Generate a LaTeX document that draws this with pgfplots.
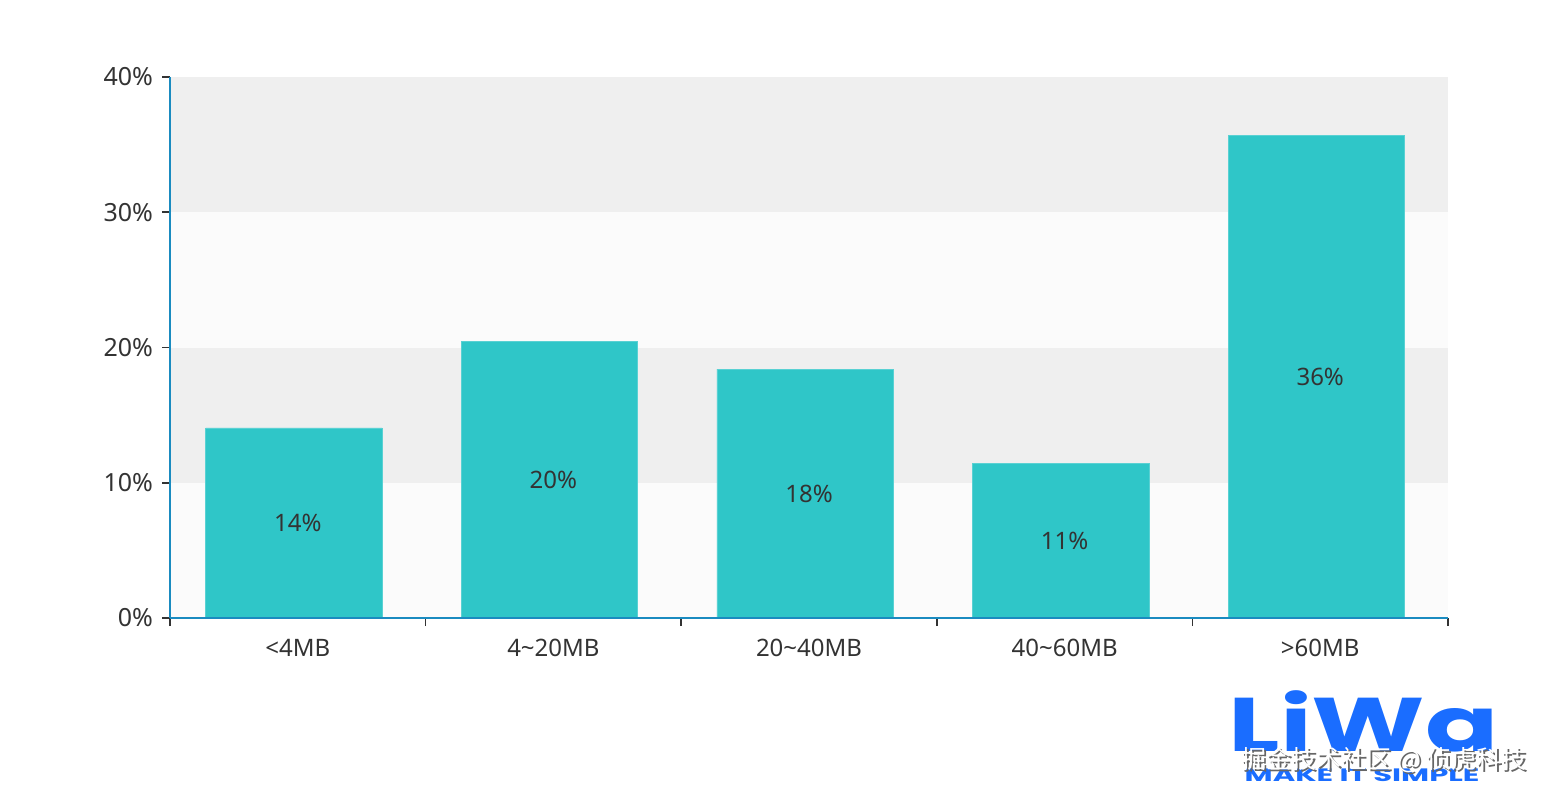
\documentclass[border=0pt]{standalone}
\usepackage{pgfplots}
\pgfplotsset{compat=1.18}
\usepackage{fontspec}
\setmainfont{Noto Sans}
\newfontfamily\cjk{Noto Sans CJK SC}
\newfontfamily\logofont{Poppins}
\definecolor{barc}{HTML}{2FC6C8}
\definecolor{axc}{HTML}{1A8BC0}
\definecolor{txt}{HTML}{333333}
\definecolor{bandA}{HTML}{EFEFEF}
\definecolor{bandB}{HTML}{FBFBFB}
\definecolor{logob}{HTML}{1A6DFF}
\pgfplotstableread{
x y lab
0.5 14.05 14\%
1.5 20.48 20\%
2.5 18.40 18\%
3.5 11.46 11\%
4.5 35.70 36\%
}\datatab
\begin{document}
\begin{tikzpicture}[x=1pt,y=1pt]
\useasboundingbox (0,0) rectangle (775,400);
\begin{axis}[
  at={(85pt,91pt)}, anchor=south west,
  scale only axis, width=639pt, height=270.5pt,
  xmin=0, xmax=5, ymin=0, ymax=40,
  axis x line*=bottom, axis y line*=left,
  axis line style={axc, line width=1pt, -},
  xtick={0.5,1.5,2.5,3.5,4.5},
  xticklabels={{<4MB},{4\textasciitilde20MB},{20\textasciitilde40MB},{40\textasciitilde60MB},{>60MB}},
  minor xtick={0,1,2,3,4,5},
  major x tick style={draw=none},
  minor x tick style={txt, line width=0.8pt},
  ytick={0,10,20,30,40},
  yticklabels={0\%,10\%,20\%,30\%,40\%},
  y tick style={txt, line width=0.8pt},
  tick align=outside,
  major tick length=4pt, minor tick length=4pt,
  ticklabel style={font=\fontsize{12}{14}\selectfont, text=txt},
  y tick label style={font=\fontsize{12.5}{14}\selectfont, xshift=-1pt},
  x tick label style={yshift=-3pt},
  clip=false,
]
\fill[bandB] (axis cs:0,0) rectangle (axis cs:5,10);
\fill[bandA] (axis cs:0,10) rectangle (axis cs:5,20);
\fill[bandB] (axis cs:0,20) rectangle (axis cs:5,30);
\fill[bandA] (axis cs:0,30) rectangle (axis cs:5,40);
\addplot[ybar, bar width=0.69, bar shift=-0.015, fill=barc, draw=barc!80!white, line width=0.4pt,
  point meta=explicit symbolic,
  nodes near coords,
  visualization depends on={y/2 \as \halfy},
  nodes near coords style={anchor=center, text=txt, font=\fontsize{12}{13}\selectfont,
     shift={(axis direction cs:0,-\halfy)}},
] table[x=x, y=y, meta=lab] {\datatab};
\draw[axc, line width=1pt] (axis cs:0,0) -- (axis cs:0,40);
\draw[axc, line width=1pt] (axis cs:0,0) -- (axis cs:5,0);
\end{axis}
% watermark logo approximation
\node[anchor=south west, inner sep=0pt, text=logob, xscale=1.42, font=\logofont\bfseries\fontsize{38}{38}\selectfont] at (614,24) {LiWa};
\node[anchor=south west, inner sep=0pt, text=logob, xscale=1.7, font=\logofont\bfseries\fontsize{9}{10}\selectfont] at (622,9) {MAKE IT SIMPLE};
\node[anchor=south west, inner sep=0pt, text=black!60, font=\cjk\fontsize{12.5}{12.5}\selectfont] at (621.5,12.5) {掘金技术社区 @ 侦虎科技};
\node[anchor=south west, inner sep=0pt, text=white, font=\cjk\fontsize{12.5}{12.5}\selectfont] at (620.5,13.3) {掘金技术社区 @ 侦虎科技};
\end{tikzpicture}
\end{document}
